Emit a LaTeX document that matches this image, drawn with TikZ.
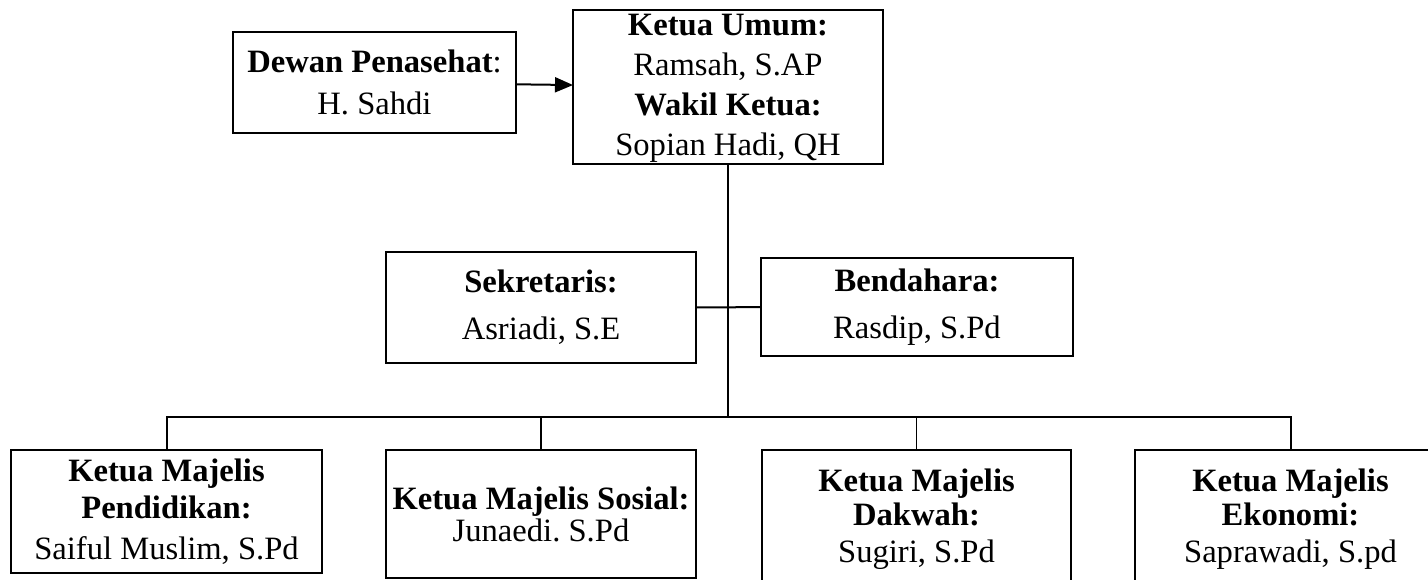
\documentclass[tikz,border=0pt]{standalone}
\usepackage{fontspec}
\setmainfont{Liberation Serif}
\usetikzlibrary{positioning, arrows.meta}
\frenchspacing

\begin{document}
\begin{tikzpicture}[x=0.5pt, y=-0.5pt]
    % Styles
    \tikzstyle{box} = [draw, line width=1pt, rectangle, inner sep=0pt, outer sep=0pt, align=center,
        font=\fontsize{16.3}{19}\selectfont]
    \tikzstyle{link} = [line width=1pt]
    \tikzstyle{drop} = [line width=0.8pt]

    \useasboundingbox (0, 0) rectangle (1428, 579);
    \clip (0, 0) rectangle (1428, 579);

    % Nodes
    \node[box, minimum width=141.5pt, minimum height=50.5pt] (dewan) at (374.5, 82.5)
        {\textbf{Dewan Penasehat}:\\[2pt] H. Sahdi};
    \node[box, minimum width=155pt, minimum height=77pt] (ketua) at (728, 87)
        {\rule{0pt}{0.72em}\textbf{Ketua Umum:}\\[1pt] Ramsah, S.AP\\[1pt] \textbf{Wakil Ketua:}\\[1pt] Sopian Hadi, QH};
    \node[box, minimum width=155pt, minimum height=55.5pt] (sekretaris) at (541, 307.5)
        {\textbf{Sekretaris:}\\[4.5pt] Asriadi, S.E};
    \node[box, minimum width=156pt, minimum height=49pt] (bendahara) at (917, 307)
        {\textbf{Bendahara:}\\[4.5pt] Rasdip, S.Pd};
    \node[box, minimum width=155.5pt, minimum height=61.5pt] (pendidikan) at (166.5, 511.5)
        {\textbf{Ketua Majelis}\\[-0.5pt] \textbf{Pendidikan:}\\[1.5pt] Saiful Muslim, S.Pd};
    \node[box, minimum width=155pt, minimum height=64pt] (sosial) at (541, 514)
        {\textbf{Ketua Majelis Sosial:}\\[-3pt] Junaedi. S.Pd};
    \node[box, minimum width=154.5pt, minimum height=69pt] (dakwah) at (916.5, 519)
        {\textbf{Ketua Majelis}\\[-2pt] \textbf{Dakwah:}\\[-0.5pt] Sugiri, S.Pd};
    \node[box, minimum width=155.5pt, minimum height=69pt] (ekonomi) at (1290.5, 519)
        {\textbf{Ketua Majelis}\\[-2pt] \textbf{Ekonomi:}\\[-0.5pt] Saprawadi, S.pd};

    \coordinate (bus) at (728, 417);

    % Edges
    \draw[link, -{Triangle[length=9pt, width=7.5pt]}] (dewan) -- (ketua);
    \draw[link] (ketua.south) -- (bus);
    \draw[link] (sekretaris) -- (bendahara);
    \draw[link] (pendidikan.north) |- (bus) -| (ekonomi.north);
    \draw[drop] (sosial.north) -- (sosial.north |- bus);
    \draw[drop] (dakwah.north) -- (dakwah.north |- bus);
\end{tikzpicture}
\end{document}
